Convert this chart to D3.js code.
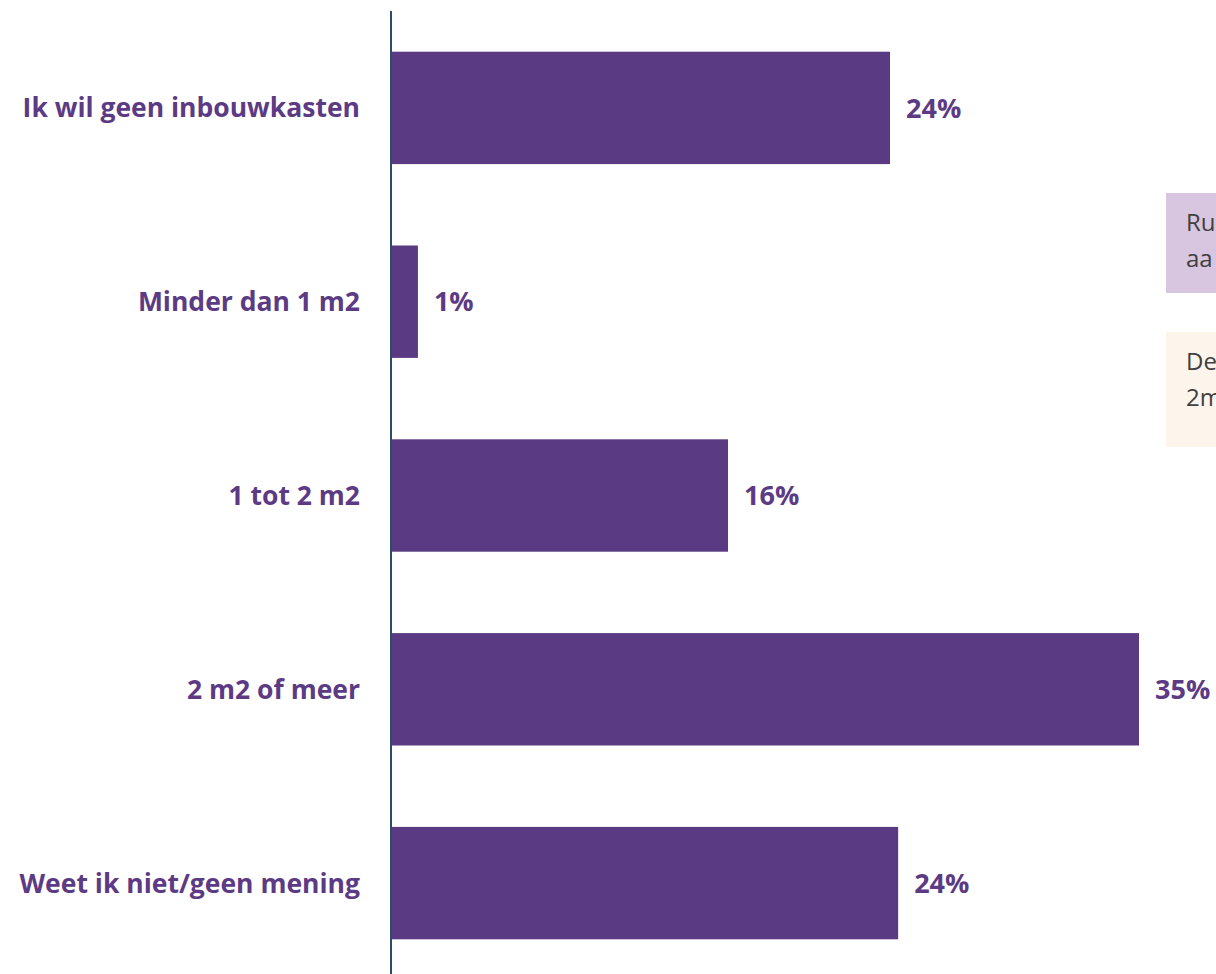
<!DOCTYPE html>
<html lang="nl">
<head>
<meta charset="UTF-8" />
<title>Inbouwkasten</title>
<script src="https://cdn.jsdelivr.net/npm/d3@7"></script>
<style>
  body { margin: 0; background: #fff; }
  svg { display: block; }
  .cat, .val { font-family: "Open Sans", sans-serif; font-weight: bold; fill: #5c3a84; }
  .note { font-family: "Open Sans", sans-serif; fill: #404040; font-size: 24px; }
</style>
</head>
<body>
<script>
// data
var categories = ["Ik wil geen inbouwkasten", "Minder dan 1 m2", "1 tot 2 m2", "2 m2 of meer", "Weet ik niet/geen mening"];
var values = [23.35, 1.26, 15.77, 35.0, 23.73];
var valueLabels = ["24%", "1%", "16%", "35%", "24%"];

// side notes, cut off by the right edge in the original
var noteLines = [["Ru", "aa"], ["De", "2m"]];
var noteColors = ["#d8c5df", "#fdf4ec"];

var w = 1216, h = 974;

var svg = d3.select("body").append("svg")
  .attr("width", w)
  .attr("height", h);

var yScale = d3.scaleBand()
  .domain(categories)
  .range([11, 980])
  .paddingInner(0.42)
  .paddingOuter(0.21);

var xScale = d3.scaleLinear()
  .domain([0, 35])
  .range([391, 1139]);

var data = categories.map(function(c, i) {
  return { cat: c, value: values[i], label: valueLabels[i] };
});

// bars
svg.selectAll("rect.bar")
  .data(data)
  .enter().append("rect")
  .attr("class", "bar")
  .attr("x", xScale(0))
  .attr("y", function(d) { return yScale(d.cat); })
  .attr("width", function(d) { return xScale(d.value) - xScale(0); })
  .attr("height", yScale.bandwidth())
  .attr("fill", "#5b3a84");

// value labels
svg.selectAll("text.val")
  .data(data)
  .enter().append("text")
  .attr("class", "val")
  .attr("x", function(d) { return xScale(d.value) + 16; })
  .attr("y", function(d) { return yScale(d.cat) + yScale.bandwidth() / 2; })
  .attr("dy", "0.36em")
  .style("font-size", "27px")
  .text(function(d) { return d.label; });

// category labels
svg.selectAll("text.cat")
  .data(data)
  .enter().append("text")
  .attr("class", "cat")
  .attr("x", 360)
  .attr("y", function(d) { return yScale(d.cat) + yScale.bandwidth() / 2; })
  .attr("dy", "0.36em")
  .attr("text-anchor", "end")
  .style("font-size", "26.5px")
  .text(function(d) { return d.cat; });

// vertical axis line
svg.append("line")
  .attr("x1", xScale(0))
  .attr("x2", xScale(0))
  .attr("y1", 11)
  .attr("y2", h)
  .attr("stroke", "#2f4b6c")
  .attr("stroke-width", 2);

// note boxes on the right
var boxTops = [193, 332];
var boxHeights = [100, 115];
noteLines.forEach(function(lines, i) {
  var g = svg.append("g");
  g.append("rect")
    .attr("x", 1166)
    .attr("y", boxTops[i])
    .attr("width", 80)
    .attr("height", boxHeights[i])
    .attr("fill", noteColors[i]);
  lines.forEach(function(t, j) {
    g.append("text")
      .attr("class", "note")
      .attr("x", 1186)
      .attr("y", boxTops[i] + 38 + j * 36)
      .text(t);
  });
});
</script>
</body>
</html>
